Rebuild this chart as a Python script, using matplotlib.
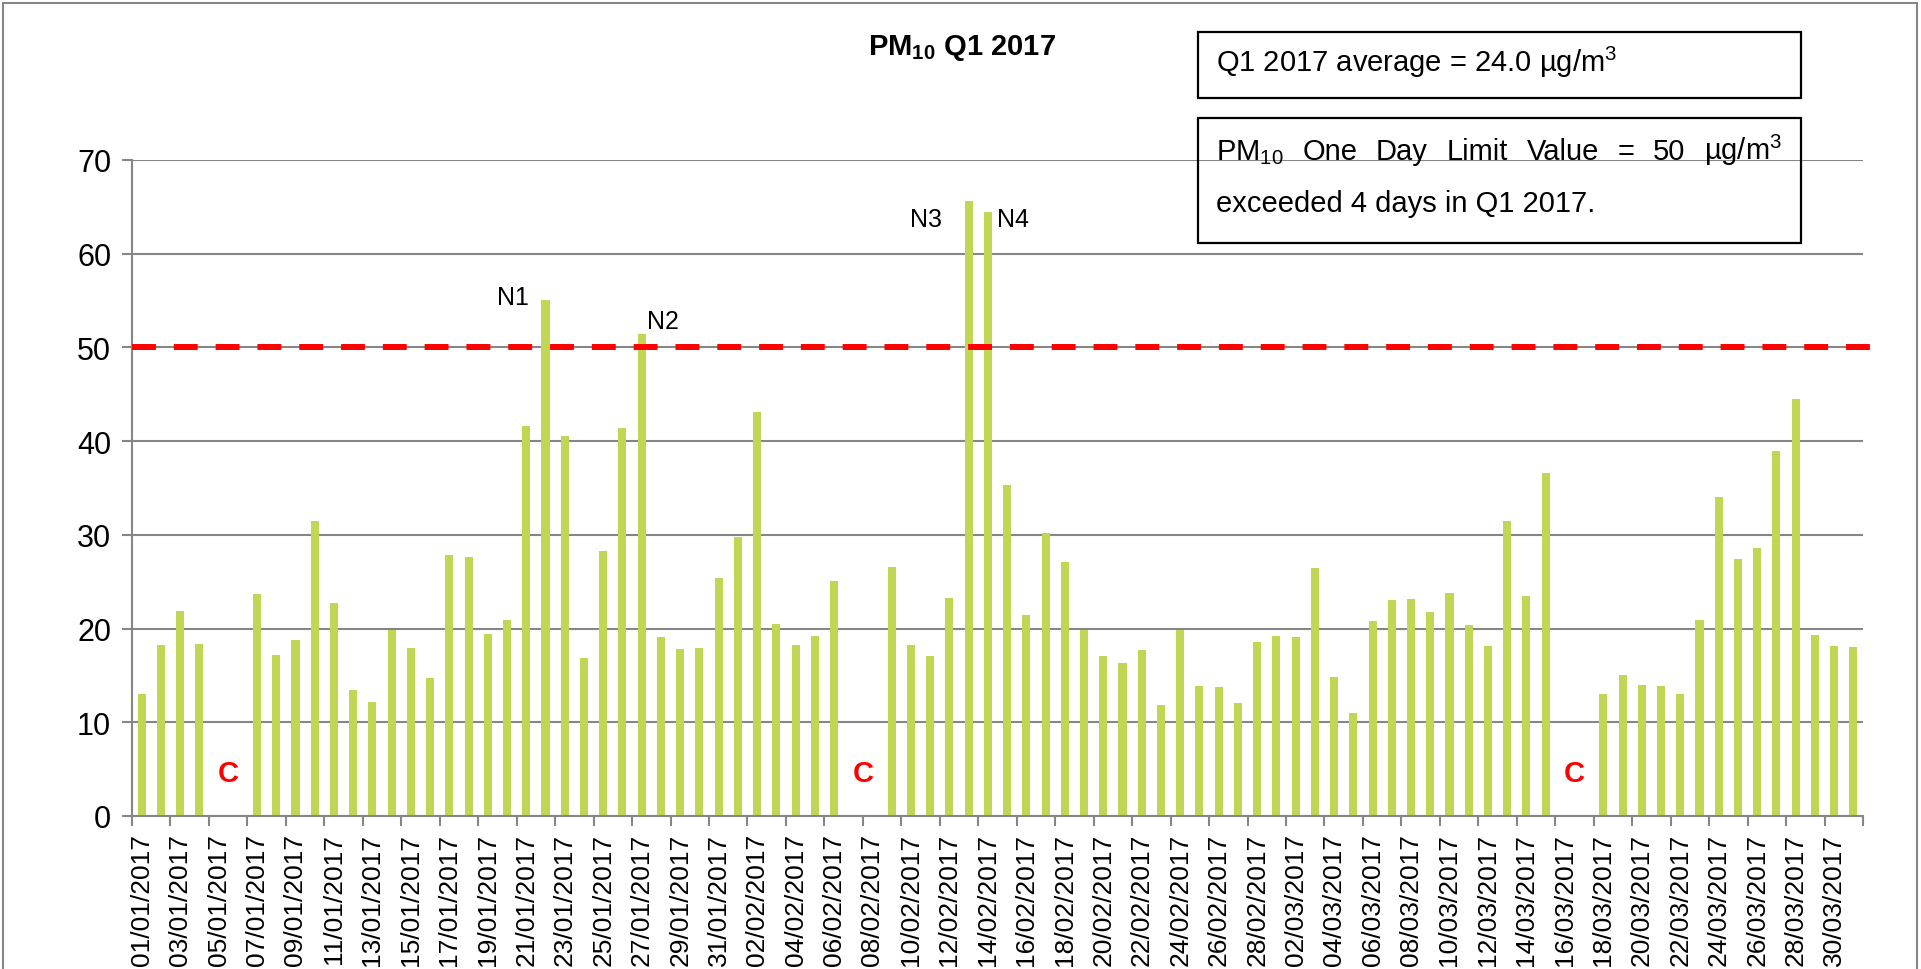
import matplotlib
matplotlib.use("Agg")
import matplotlib.pyplot as plt
import numpy as np
import pandas as pd
from matplotlib.patches import Rectangle

plt.rcParams['font.family'] = ['Liberation Sans', 'DejaVu Sans']
plt.rcParams['mathtext.fontset'] = 'custom'
plt.rcParams['mathtext.rm'] = 'Liberation Sans'
plt.rcParams['mathtext.it'] = 'Liberation Sans:italic'
plt.rcParams['mathtext.bf'] = 'Liberation Sans:bold'

nan = np.nan
# ---- data ----
dates = pd.date_range('2017-01-01', '2017-03-31', freq='D')
date_labels = [d.strftime('%d/%m/%Y') for d in dates]

jan_values = [13.0, 18.3, 21.9, 18.4, nan, nan, 23.7, 17.2, 18.8, 31.5, 22.7, 13.4, 12.2,
              19.8, 17.9, 14.7, 27.9, 27.6, 19.4, 20.9, 41.6, 55.1, 40.6, 16.9, 28.3, 41.4,
              51.4, 19.1, 17.8, 17.9, 25.4]
feb_values = [29.8, 43.1, 20.5, 18.3, 19.2, 25.1, nan, nan, 26.6, 18.2, 17.1, 23.3, 65.6,
              64.5, 35.3, 21.4, 30.2, 27.1, 19.9, 17.1, 16.3, 17.7, 11.8, 19.8, 13.9, 13.8,
              12.1, 18.6]
mar_values = [19.2, 19.1, 26.5, 14.8, 11.0, 20.8, 23.1, 23.2, 21.8, 23.8, 20.4, 18.1, 31.5,
              23.5, 36.6, nan, nan, 13.0, 15.0, 14.0, 13.9, 13.0, 20.9, 34.0, 27.4, 28.6,
              39.0, 44.5, 19.3, 18.1, 18.0]
pm10 = jan_values + feb_values + mar_values

limit_value = 50
exceedance_labels = ['N1', 'N2', 'N3', 'N4']
exceedance_pos = [(19.3, 55.4), (27.1, 52.8), (40.8, 63.7), (45.3, 63.7)]
closed_pos = [4.5, 37.5, 74.5]
closed_label = 'C'

W, H = 1921, 970
fig = plt.figure(figsize=(W / 100, H / 100), dpi=100)
ax = fig.add_axes([132 / W, 1 - 817 / H, (1863 - 132) / W, (817 - 161) / H])

x = np.arange(len(pm10))
ax.bar(x, pm10, width=0.42, color='#C0D654', zorder=2)

ax.set_xlim(-0.5, len(pm10) - 0.5)
ax.set_ylim(0, 70)
ax.set_yticks(range(0, 71, 10))
ax.yaxis.grid(True, color='#868686', lw=1.5, zorder=0)
ax.set_axisbelow(True)

for s in ['top', 'right']:
    ax.spines[s].set_visible(False)
for s in ['left', 'bottom']:
    ax.spines[s].set_color('#868686')
    ax.spines[s].set_linewidth(1.5)

ax.set_xticks(x[::2])
ax.set_xticklabels(date_labels[::2], rotation=90, fontsize=19)
ax.set_xticks(np.arange(-0.5, len(pm10), 2), minor=True)
ax.tick_params(axis='x', which='major', length=0, pad=12)
ax.tick_params(axis='x', which='minor', length=7, width=1.5, color='#868686')
ax.tick_params(axis='y', length=7, width=1.5, color='#868686', labelsize=22, pad=8)

ax.axhline(limit_value, xmin=0, xmax=1.008, color='#FF0000', lw=4.3,
           ls=(0, (4.0, 3.0)), dash_capstyle='butt', clip_on=False, zorder=3)

for lab, (px, py) in zip(exceedance_labels, exceedance_pos):
    ax.text(px, py, lab, ha='center', va='center', fontsize=18, zorder=4)
for cx in closed_pos:
    ax.text(cx, 4.6, closed_label, color='#FF0000', fontsize=21, fontweight='bold',
            ha='center', va='center', zorder=4)

# title
fig.text(962 / W, 1 - 55 / H, r'PM$_{\mathbf{10}}$ Q1 2017', fontweight='bold',
         fontsize=21, ha='center', va='baseline')

# boxes
fig.add_artist(Rectangle((1198 / W, 1 - 99 / H), (1801 - 1198) / W, 66 / H,
                         transform=fig.transFigure, fill=False, ec='black', lw=1.6))
fig.add_artist(Rectangle((1198 / W, 1 - 244 / H), (1801 - 1198) / W, 125 / H,
                         transform=fig.transFigure, fill=False, ec='black', lw=1.6))
fig.text(1216 / W, 1 - 72 / H, r'Q1 2017 average = 24.0 µg/m$^{\mathregular{3}}$',
         fontsize=21, ha='left', va='baseline')

words = [r'PM$_{\mathregular{10}}$', 'One', 'Day', 'Limit', 'Value', '=', '50',
         r'µg/m$^{\mathregular{3}}$']
wtexts = [fig.text(0, 1 - 160 / H, w, fontsize=21, ha='left', va='baseline') for w in words]
fig.text(1216 / W, 1 - 212 / H, 'exceeded 4 days in Q1 2017.', fontsize=21,
         ha='left', va='baseline')

# outer border
fig.add_artist(Rectangle((3 / W, -0.05), (W - 7) / W, 1.05 - 4 / H,
                         transform=fig.transFigure, fill=False, ec='#868686', lw=1.5))

fig.canvas.draw()
r = fig.canvas.get_renderer()
widths = [t.get_window_extent(r).width for t in wtexts]
left, right = 1216, 1782
gap = (right - left - sum(widths)) / (len(words) - 1)
pos = left
for t, wd in zip(wtexts, widths):
    t.set_x(pos / W)
    pos += wd + gap

fig.savefig('out.png', dpi=100)
